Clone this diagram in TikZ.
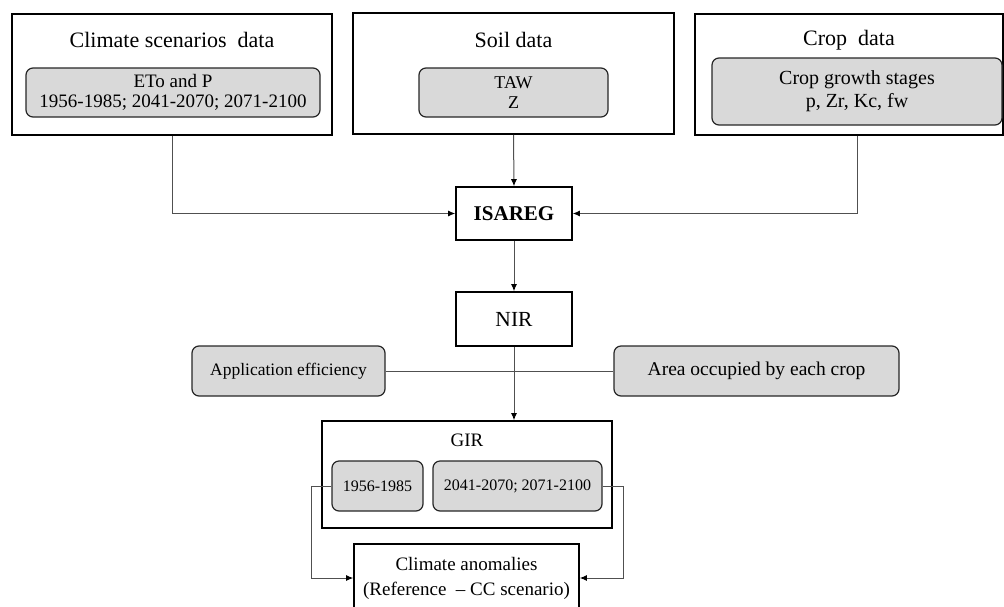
\documentclass[tikz,border=0pt]{standalone}
\usepackage{fontspec}
\setmainfont{Liberation Serif}
\usetikzlibrary{arrows.meta}
\definecolor{boxgray}{HTML}{D9D9D9}
\definecolor{linkgray}{HTML}{505050}
\tikzset{
	dims/.style 2 args={minimum width=#1, minimum height=#2},
	outerbox/.style={draw=black, line width=1.6pt},
	innerbox/.style={draw=black!85, fill=boxgray, line width=1.2pt, rounded corners=7pt},
	titletext/.style={font=\fontsize{22}{24}\selectfont},
	link/.style={draw=linkgray, line width=1pt},
	arrowlink/.style={link, -{Latex[length=7pt,width=6pt,color=black]}}
}

\begin{document}
\begin{tikzpicture}[x=1pt, y=-1pt, every node/.style={font=\fontsize{19}{21}\selectfont, inner sep=0pt, align=center}]
		%%%%% START %%%%%
		\useasboundingbox (0,0) rectangle (1004,606);
		\clip (0,0) rectangle (1004,606);
		
		% input data
		\node[outerbox, dims={320pt}{121pt}] (climate) at (172,74.5) {};
		\node[titletext] (climtitle) at (172,40) {Climate scenarios~ data};
		\node[innerbox, dims={294pt}{49pt}, font=\fontsize{19}{20}\selectfont] (climin) at (173,92.5) {ETo and P\\1956-1985; 2041-2070; 2071-2100};
		
		\node[outerbox, dims={321pt}{121pt}] (soil) at (513.5,73.5) {};
		\node[titletext] (soiltitle) at (513.5,40) {Soil data};
		\node[innerbox, dims={189pt}{49pt}, font=\fontsize{18}{20}\selectfont] (soilin) at (513.5,92.5) {TAW\\Z};
		
		\node[outerbox, dims={308pt}{121pt}] (crop) at (849,74.5) {};
		\node[titletext] (croptitle) at (849,40) {Crop~ data};
		\node[innerbox, dims={290pt}{67pt}, font=\fontsize{20}{23}\selectfont] (cropin) at (857,91.5) {Crop growth stages\\p, Zr, Kc, fw};
		
		% model
		\node[outerbox, dims={116pt}{53pt}, font=\fontsize{21}{22}\selectfont\bfseries] (isareg) at (514,213.5) {ISAREG};
		\node[outerbox, dims={116pt}{54pt}, font=\fontsize{21.5}{22}\selectfont] (nir) at (514,319) {NIR};
		
		\node[innerbox, dims={193pt}{50pt}, font=\fontsize{17.5}{20}\selectfont] (appeff) at (288.5,371) {Application efficiency};
		\node[innerbox, dims={285pt}{50pt}, font=\fontsize{19.5}{22}\selectfont] (area) at (756.5,371) {Area occupied by each crop};
		
		% irrigation requirements
		\node[outerbox, dims={290pt}{107pt}] (gir) at (467,474.5) {};
		\node (girtitle) at (467,440) {GIR};
		\node[innerbox, dims={91pt}{50pt}, font=\fontsize{16}{18}\selectfont] (girref) at (377.5,486) {1956-1985};
		\node[innerbox, dims={169pt}{50pt}, font=\fontsize{16}{18}\selectfont] (girfut) at (517.5,486) {2041-2070; 2071-2100};
		
		\node[outerbox, dims={225pt}{68pt}, font=\fontsize{19}{25}\selectfont] (anomaly) at (466.5,578) {Climate anomalies\\(Reference~ -- CC scenario)};
		
		% connectors
		\draw[arrowlink] (climate.south) |- (isareg.west);
		\draw[arrowlink] (soil.south) -- (isareg.north);
		\draw[arrowlink] (cropin.south |- crop.south) |- (isareg.east);
		\draw[arrowlink] (isareg.south) -- (nir.north);
		\draw[link] (appeff.east) -- (area.west);
		\draw[arrowlink] (nir.south) -- (nir.south |- gir.north);
		\draw[arrowlink] (girref.west) -- ++(-20,0) |- (anomaly.west);
		\draw[arrowlink] (girfut.east) -- ++(21,0) |- (anomaly.east);
		
		%%%%% END %%%%%
\end{tikzpicture}
\end{document}
